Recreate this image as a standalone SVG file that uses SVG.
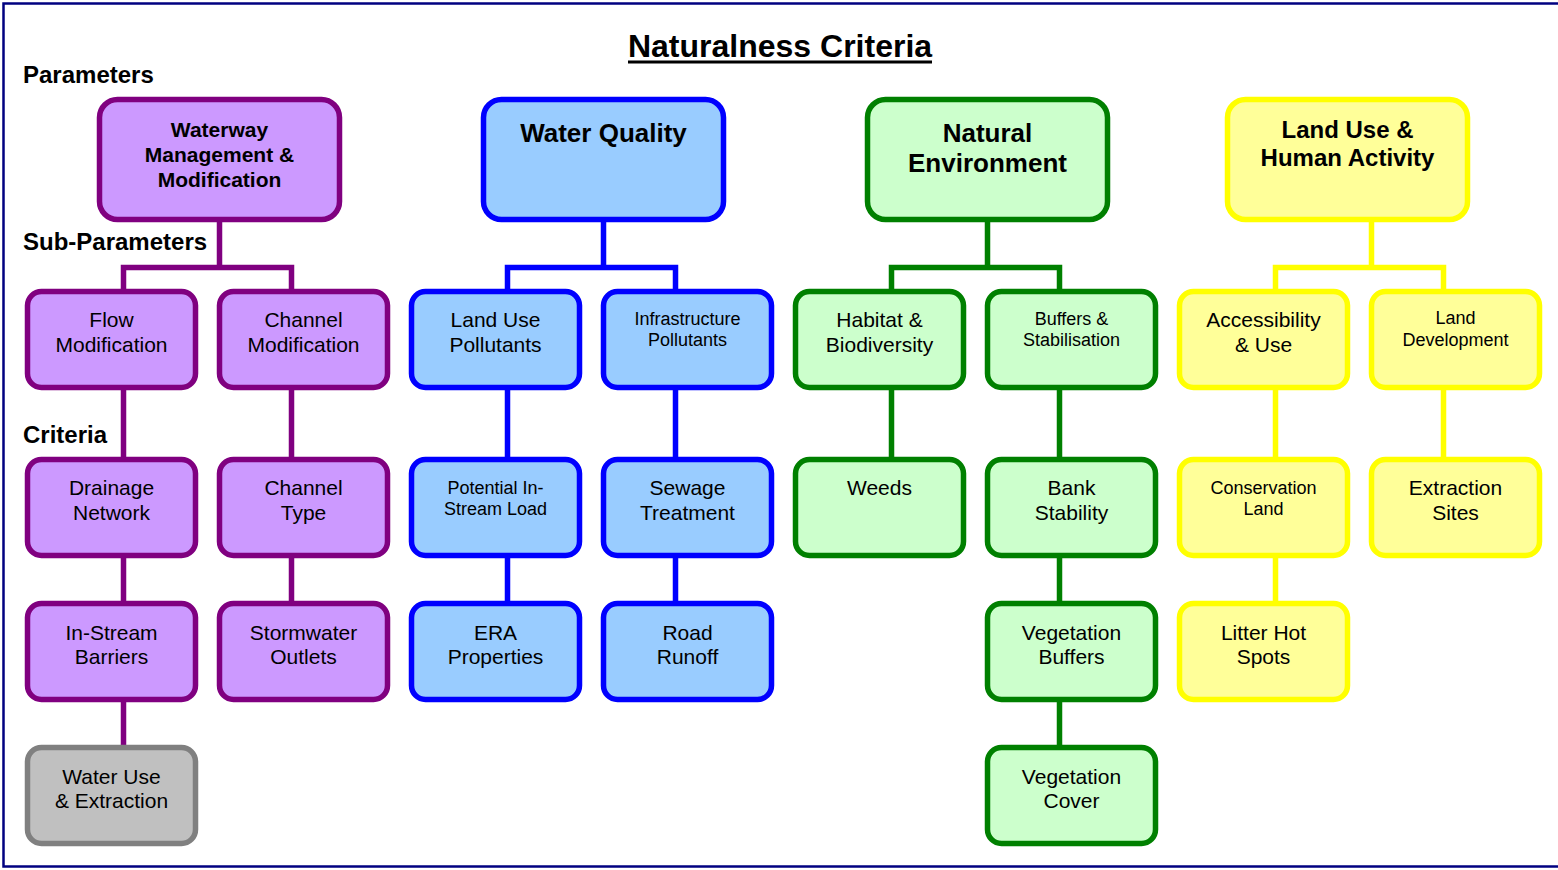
<svg xmlns="http://www.w3.org/2000/svg" width="1558" height="870" viewBox="0 0 1558 870">
<style>
text{font-family:"Liberation Sans",Arial,sans-serif;fill:#000;text-anchor:middle}
.lbl{font-weight:bold;font-size:24px;text-anchor:start}
.n{font-size:21px}
.s{font-size:18px}
.b{font-weight:bold}
rect.nd{stroke-width:5.5}
.pu rect{fill:#CC99FF;stroke:#800080}
.bl rect{fill:#99CCFF;stroke:#0000FF}
.gr rect{fill:#CCFFCC;stroke:#008000}
.ye rect{fill:#FFFF99;stroke:#FFFF00}
.gy rect{fill:#C0C0C0;stroke:#808080}
#connectors path{fill:none;stroke-width:5.5;stroke-linejoin:miter}
</style>
<rect x="3.5" y="3.5" width="1600" height="863" fill="#fff" stroke="#000080" stroke-width="2.5"/>
<text x="780" y="57" font-size="32" font-weight="bold">Naturalness Criteria</text>
<line x1="628" y1="62" x2="932" y2="62" stroke="#000" stroke-width="3"/>
<text class="lbl" x="23" y="83">Parameters</text>
<text class="lbl" x="23" y="250">Sub-Parameters</text>
<text class="lbl" x="23" y="443">Criteria</text>

<g id="connectors">
<path stroke="#800080" d="M219.5 215V267.5M123.5 295V267.5H291.5V295M123.5 385V465M123.5 550V610M123.5 695V752M291.5 385V465M291.5 550V610"/>
<path stroke="#0000FF" d="M603.5 215V267.5M507.5 295V267.5H675.5V295M507.5 385V465M507.5 550V610M675.5 385V465M675.5 550V610"/>
<path stroke="#008000" d="M987.5 215V267.5M891.5 295V267.5H1059.5V295M891.5 385V465M1059.5 385V465M1059.5 550V610M1059.5 695V752"/>
<path stroke="#FFFF00" d="M1371.5 215V267.5M1275.5 295V267.5H1443.5V295M1275.5 385V465M1275.5 550V610M1443.5 385V465"/>
</g>

<g id="waterway" class="pu"><rect class="nd" x="99.5" y="99.5" width="240" height="120" rx="18"/>
<text class="b" font-size="21" x="219.5" y="136.5">Waterway</text><text class="b" font-size="21" x="219.5" y="161.5">Management &amp;</text><text class="b" font-size="21" x="219.5" y="186.5">Modification</text></g>
<g id="waterquality" class="bl"><rect class="nd" x="483.5" y="99.5" width="240" height="120" rx="18"/>
<text class="b" font-size="26" x="603.5" y="141.5">Water Quality</text></g>
<g id="naturalenv" class="gr"><rect class="nd" x="867.5" y="99.5" width="240" height="120" rx="18"/>
<text class="b" font-size="26" x="987.5" y="141.5">Natural</text><text class="b" font-size="26" x="987.5" y="171.5">Environment</text></g>
<g id="landuse" class="ye"><rect class="nd" x="1227.5" y="99.5" width="240" height="120" rx="18"/>
<text class="b" font-size="24" x="1347.5" y="137.5">Land Use &amp;</text><text class="b" font-size="24" x="1347.5" y="165.5">Human Activity</text></g>

<g id="flowmod" class="pu"><rect class="nd" x="27.5" y="291.5" width="168" height="96" rx="14"/>
<text class="n" x="111.5" y="326.5">Flow</text><text class="n" x="111.5" y="351.5">Modification</text></g>
<g id="channelmod" class="pu"><rect class="nd" x="219.5" y="291.5" width="168" height="96" rx="14"/>
<text class="n" x="303.5" y="326.5">Channel</text><text class="n" x="303.5" y="351.5">Modification</text></g>
<g id="landusepoll" class="bl"><rect class="nd" x="411.5" y="291.5" width="168" height="96" rx="14"/>
<text class="n" x="495.5" y="326.5">Land Use</text><text class="n" x="495.5" y="351.5">Pollutants</text></g>
<g id="infrapoll" class="bl"><rect class="nd" x="603.5" y="291.5" width="168" height="96" rx="14"/>
<text class="s" x="687.5" y="325">Infrastructure</text><text class="s" x="687.5" y="346">Pollutants</text></g>
<g id="habitat" class="gr"><rect class="nd" x="795.5" y="291.5" width="168" height="96" rx="14"/>
<text class="n" x="879.5" y="326.5">Habitat &amp;</text><text class="n" x="879.5" y="351.5">Biodiversity</text></g>
<g id="buffers" class="gr"><rect class="nd" x="987.5" y="291.5" width="168" height="96" rx="14"/>
<text class="s" x="1071.5" y="325">Buffers &amp;</text><text class="s" x="1071.5" y="346">Stabilisation</text></g>
<g id="access" class="ye"><rect class="nd" x="1179.5" y="291.5" width="168" height="96" rx="14"/>
<text class="n" x="1263.5" y="326.5">Accessibility</text><text class="n" x="1263.5" y="351.5">&amp; Use</text></g>
<g id="landdev" class="ye"><rect class="nd" x="1371.5" y="291.5" width="168" height="96" rx="14"/>
<text class="s" x="1455.5" y="324">Land</text><text class="s" x="1455.5" y="346">Development</text></g>

<g id="drainage" class="pu"><rect class="nd" x="27.5" y="459.5" width="168" height="96" rx="14"/>
<text class="n" x="111.5" y="495">Drainage</text><text class="n" x="111.5" y="520">Network</text></g>
<g id="channeltype" class="pu"><rect class="nd" x="219.5" y="459.5" width="168" height="96" rx="14"/>
<text class="n" x="303.5" y="495">Channel</text><text class="n" x="303.5" y="520">Type</text></g>
<g id="potential" class="bl"><rect class="nd" x="411.5" y="459.5" width="168" height="96" rx="14"/>
<text class="s" x="495.5" y="493.5">Potential In-</text><text class="s" x="495.5" y="515">Stream Load</text></g>
<g id="sewage" class="bl"><rect class="nd" x="603.5" y="459.5" width="168" height="96" rx="14"/>
<text class="n" x="687.5" y="495">Sewage</text><text class="n" x="687.5" y="520">Treatment</text></g>
<g id="weeds" class="gr"><rect class="nd" x="795.5" y="459.5" width="168" height="96" rx="14"/>
<text class="n" x="879.5" y="495">Weeds</text></g>
<g id="bank" class="gr"><rect class="nd" x="987.5" y="459.5" width="168" height="96" rx="14"/>
<text class="n" x="1071.5" y="495">Bank</text><text class="n" x="1071.5" y="520">Stability</text></g>
<g id="conservation" class="ye"><rect class="nd" x="1179.5" y="459.5" width="168" height="96" rx="14"/>
<text class="s" x="1263.5" y="493.5">Conservation</text><text class="s" x="1263.5" y="515">Land</text></g>
<g id="extraction" class="ye"><rect class="nd" x="1371.5" y="459.5" width="168" height="96" rx="14"/>
<text class="n" x="1455.5" y="495">Extraction</text><text class="n" x="1455.5" y="520">Sites</text></g>

<g id="instream" class="pu"><rect class="nd" x="27.5" y="603.5" width="168" height="96" rx="14"/>
<text class="n" x="111.5" y="639.5">In-Stream</text><text class="n" x="111.5" y="664">Barriers</text></g>
<g id="stormwater" class="pu"><rect class="nd" x="219.5" y="603.5" width="168" height="96" rx="14"/>
<text class="n" x="303.5" y="639.5">Stormwater</text><text class="n" x="303.5" y="664">Outlets</text></g>
<g id="era" class="bl"><rect class="nd" x="411.5" y="603.5" width="168" height="96" rx="14"/>
<text class="n" x="495.5" y="639.5">ERA</text><text class="n" x="495.5" y="664">Properties</text></g>
<g id="road" class="bl"><rect class="nd" x="603.5" y="603.5" width="168" height="96" rx="14"/>
<text class="n" x="687.5" y="639.5">Road</text><text class="n" x="687.5" y="664">Runoff</text></g>
<g id="vegbuffers" class="gr"><rect class="nd" x="987.5" y="603.5" width="168" height="96" rx="14"/>
<text class="n" x="1071.5" y="639.5">Vegetation</text><text class="n" x="1071.5" y="664">Buffers</text></g>
<g id="litter" class="ye"><rect class="nd" x="1179.5" y="603.5" width="168" height="96" rx="14"/>
<text class="n" x="1263.5" y="639.5">Litter Hot</text><text class="n" x="1263.5" y="664">Spots</text></g>

<g id="wateruse" class="gy"><rect class="nd" x="27.5" y="747.5" width="168" height="96" rx="14"/>
<text class="n" x="111.5" y="783.5">Water Use</text><text class="n" x="111.5" y="808">&amp; Extraction</text></g>
<g id="vegcover" class="gr"><rect class="nd" x="987.5" y="747.5" width="168" height="96" rx="14"/>
<text class="n" x="1071.5" y="783.5">Vegetation</text><text class="n" x="1071.5" y="808">Cover</text></g>
</svg>
